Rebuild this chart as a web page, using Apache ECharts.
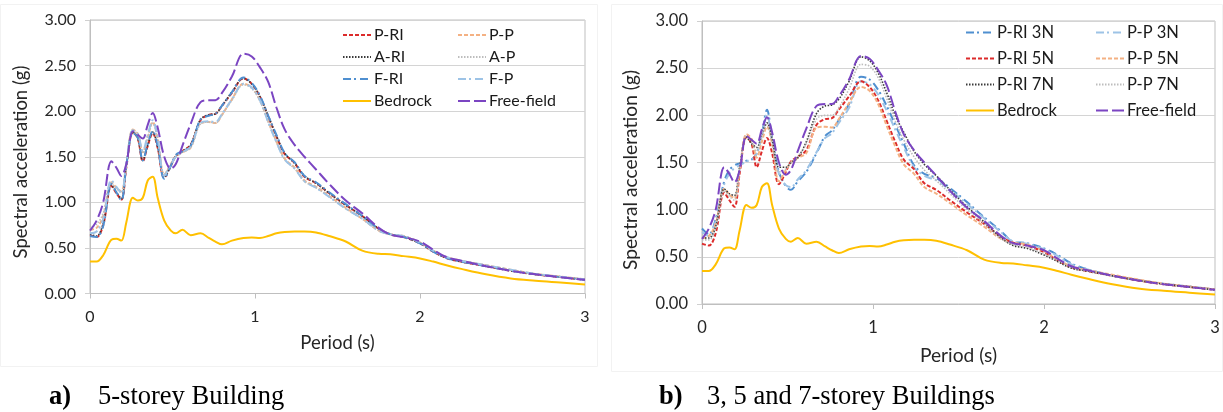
<!DOCTYPE html>
<html>
<head>
<meta charset="utf-8">
<script src="https://cdn.jsdelivr.net/npm/echarts@6.0.0/dist/echarts.min.js"></script>
<style>
  html, body { margin: 0; padding: 0; background: #fff; }
  #chart { width: 1223px; height: 412px; }
</style>
</head>
<body>
<div id="chart"></div>
<script>
// Period axis (s) shared by every spectrum
const periods = [0, 0.04, 0.08, 0.13, 0.16, 0.19, 0.22, 0.26, 0.29, 0.32, 0.35, 0.38, 0.41, 0.45, 0.49, 0.52, 0.56, 0.61, 0.67, 0.72, 0.76, 0.8, 0.86, 0.93, 0.98, 1.03, 1.08, 1.13, 1.18, 1.24, 1.3, 1.37, 1.45, 1.55, 1.65, 1.75, 1.82, 1.9, 2.0, 2.08, 2.16, 2.25, 2.4, 2.55, 2.7, 2.85, 3.0];

// Spectral acceleration (g)
const bedrock   = [0.35, 0.35, 0.42, 0.59, 0.60, 0.58, 0.78, 1.05, 1.02, 1.05, 1.24, 1.28, 1.05, 0.80, 0.69, 0.66, 0.70, 0.64, 0.66, 0.61, 0.57, 0.54, 0.58, 0.61, 0.615, 0.61, 0.63, 0.66, 0.675, 0.68, 0.68, 0.67, 0.63, 0.57, 0.47, 0.435, 0.43, 0.41, 0.385, 0.35, 0.31, 0.27, 0.21, 0.165, 0.14, 0.12, 0.10];
const freeField = [0.69, 0.80, 1.00, 1.45, 1.38, 1.29, 1.42, 1.78, 1.74, 1.70, 1.85, 1.98, 1.82, 1.50, 1.37, 1.42, 1.62, 1.86, 2.10, 2.12, 2.12, 2.20, 2.38, 2.63, 2.60, 2.48, 2.32, 2.04, 1.80, 1.63, 1.50, 1.36, 1.20, 1.02, 0.88, 0.72, 0.645, 0.62, 0.57, 0.48, 0.40, 0.36, 0.30, 0.25, 0.21, 0.18, 0.15];

// 5-storey building, rigid (RI) and pile (P) variants
const pRI = [0.64, 0.62, 0.75, 1.18, 1.10, 1.03, 1.38, 1.77, 1.70, 1.45, 1.62, 1.76, 1.60, 1.27, 1.40, 1.51, 1.56, 1.63, 1.90, 1.96, 1.97, 2.06, 2.20, 2.36, 2.30, 2.16, 1.94, 1.72, 1.53, 1.43, 1.28, 1.21, 1.10, 0.97, 0.85, 0.71, 0.65, 0.62, 0.55, 0.46, 0.39, 0.35, 0.30, 0.25, 0.21, 0.18, 0.15];
const aRI = [0.65, 0.63, 0.77, 1.19, 1.11, 1.04, 1.39, 1.77, 1.70, 1.46, 1.63, 1.77, 1.61, 1.28, 1.40, 1.51, 1.56, 1.63, 1.91, 1.96, 1.97, 2.06, 2.21, 2.36, 2.30, 2.16, 1.95, 1.73, 1.54, 1.43, 1.29, 1.21, 1.10, 0.97, 0.85, 0.71, 0.65, 0.62, 0.55, 0.46, 0.39, 0.35, 0.30, 0.25, 0.21, 0.18, 0.15];
const fRI = [0.63, 0.62, 0.74, 1.20, 1.11, 1.02, 1.40, 1.76, 1.71, 1.46, 1.64, 1.78, 1.62, 1.26, 1.40, 1.52, 1.56, 1.62, 1.91, 1.95, 1.97, 2.06, 2.21, 2.37, 2.31, 2.17, 1.95, 1.74, 1.54, 1.44, 1.29, 1.22, 1.11, 0.98, 0.85, 0.71, 0.65, 0.62, 0.55, 0.46, 0.39, 0.35, 0.30, 0.25, 0.21, 0.18, 0.15];
const pP  = [0.70, 0.72, 0.85, 1.22, 1.16, 1.12, 1.42, 1.80, 1.75, 1.55, 1.72, 1.88, 1.70, 1.30, 1.42, 1.50, 1.55, 1.60, 1.87, 1.88, 1.87, 1.96, 2.13, 2.30, 2.26, 2.12, 1.89, 1.67, 1.48, 1.38, 1.24, 1.17, 1.07, 0.94, 0.82, 0.69, 0.65, 0.63, 0.56, 0.47, 0.40, 0.36, 0.31, 0.26, 0.215, 0.185, 0.155];
const aP  = [0.73, 0.76, 0.88, 1.21, 1.15, 1.11, 1.41, 1.79, 1.74, 1.54, 1.71, 1.87, 1.69, 1.31, 1.42, 1.50, 1.55, 1.60, 1.86, 1.88, 1.87, 1.96, 2.12, 2.29, 2.25, 2.11, 1.88, 1.66, 1.47, 1.37, 1.23, 1.16, 1.06, 0.93, 0.82, 0.69, 0.65, 0.63, 0.56, 0.47, 0.40, 0.36, 0.31, 0.26, 0.215, 0.185, 0.155];
const fP  = [0.66, 0.68, 0.82, 1.24, 1.17, 1.10, 1.43, 1.79, 1.75, 1.56, 1.74, 1.90, 1.71, 1.29, 1.41, 1.50, 1.55, 1.61, 1.87, 1.89, 1.88, 1.97, 2.13, 2.30, 2.26, 2.12, 1.88, 1.66, 1.47, 1.37, 1.23, 1.16, 1.06, 0.93, 0.82, 0.69, 0.65, 0.63, 0.56, 0.47, 0.40, 0.36, 0.31, 0.26, 0.215, 0.185, 0.155];

// 3- and 7-storey buildings (5-storey uses pRI / pP)
const pRI3N = [0.80, 0.74, 0.90, 1.30, 1.42, 1.47, 1.49, 1.52, 1.53, 1.60, 1.80, 2.06, 1.75, 1.40, 1.25, 1.21, 1.30, 1.40, 1.60, 1.78, 1.84, 1.95, 2.12, 2.41, 2.38, 2.27, 2.10, 1.90, 1.70, 1.47, 1.38, 1.335, 1.23, 1.08, 0.92, 0.77, 0.66, 0.645, 0.59, 0.52, 0.43, 0.37, 0.30, 0.255, 0.215, 0.185, 0.155];
const pP3N  = [0.76, 0.72, 0.88, 1.27, 1.38, 1.44, 1.47, 1.51, 1.53, 1.59, 1.78, 2.01, 1.72, 1.38, 1.26, 1.24, 1.32, 1.42, 1.61, 1.76, 1.81, 1.92, 2.08, 2.36, 2.33, 2.22, 2.05, 1.85, 1.66, 1.45, 1.36, 1.31, 1.21, 1.06, 0.91, 0.76, 0.66, 0.64, 0.58, 0.51, 0.42, 0.37, 0.30, 0.255, 0.215, 0.185, 0.155];
const pRI7N = [0.70, 0.70, 0.82, 1.22, 1.17, 1.15, 1.45, 1.77, 1.70, 1.66, 1.80, 1.92, 1.75, 1.45, 1.45, 1.50, 1.55, 1.72, 2.02, 2.10, 2.11, 2.17, 2.36, 2.62, 2.58, 2.45, 2.24, 2.00, 1.82, 1.62, 1.48, 1.36, 1.21, 1.03, 0.87, 0.70, 0.62, 0.59, 0.52, 0.45, 0.38, 0.35, 0.30, 0.25, 0.21, 0.18, 0.15];
const pP7N  = [0.68, 0.68, 0.80, 1.20, 1.14, 1.10, 1.42, 1.78, 1.72, 1.62, 1.78, 1.90, 1.72, 1.40, 1.43, 1.50, 1.56, 1.70, 1.96, 2.00, 2.00, 2.08, 2.28, 2.54, 2.52, 2.40, 2.18, 1.94, 1.74, 1.56, 1.42, 1.31, 1.17, 1.00, 0.85, 0.69, 0.63, 0.60, 0.53, 0.46, 0.39, 0.35, 0.30, 0.25, 0.21, 0.18, 0.15];

const xTicks = { min: 0, max: 3, interval: 1 };
const yTicks = { min: 0, max: 3, interval: 0.5 };

const FONT = 'Lato';
const styles = {
  red:      { color: '#dc2b2b', type: [4, 2],        width: 2 },
  orange:   { color: '#f4b183', type: [4, 2],        width: 2 },
  dark:     { color: '#3a3a3a', type: [1.5, 1.5],    width: 1.6 },
  grey:     { color: '#bdbdbd', type: [1.5, 1.5],    width: 1.6 },
  blue:     { color: '#4f8fd0', type: [8, 3, 2, 4],  width: 2 },
  lblue:    { color: '#9dc3e6', type: [8, 3, 2, 4],  width: 2 },
  bedrock:  { color: '#ffc000', type: 'solid',       width: 2 },
  free:     { color: '#7b45c2', type: [12, 4],       width: 2 }
};

function pairs(vals) { return periods.map((t, i) => [t, vals[i]]); }

function line(name, vals, st, idx) {
  return {
    name: name, type: 'line', xAxisIndex: idx, yAxisIndex: idx,
    data: pairs(vals), smooth: 0.35, symbol: 'none', showSymbol: false,
    lineStyle: { color: st.color, type: st.type, width: st.width },
    itemStyle: { color: st.color },
    emphasis: { disabled: true }, animation: false
  };
}

// chart b names carry a trailing space where the label repeats chart a
const seriesA = [
  line('P-RI', pRI, styles.red, 0),
  line('P-P', pP, styles.orange, 0),
  line('A-RI', aRI, styles.dark, 0),
  line('A-P', aP, styles.grey, 0),
  line('F-RI', fRI, styles.blue, 0),
  line('F-P', fP, styles.lblue, 0),
  line('Bedrock', bedrock, styles.bedrock, 0),
  line('Free-field', freeField, styles.free, 0)
];
const seriesB = [
  line('P-RI 3N', pRI3N, styles.blue, 1),
  line('P-P 3N', pP3N, styles.lblue, 1),
  line('P-RI 5N', pRI, styles.red, 1),
  line('P-P 5N', pP, styles.orange, 1),
  line('P-RI 7N', pRI7N, styles.dark, 1),
  line('P-P 7N', pP7N, styles.grey, 1),
  line('Bedrock ', bedrock, styles.bedrock, 1),
  line('Free-field ', freeField, styles.free, 1)
];

function xAxis(idx, gap, fs, ns) {
  return {
    type: 'value', gridIndex: idx, min: xTicks.min, max: xTicks.max, interval: xTicks.interval,
    name: 'Period (s)', nameLocation: 'middle', nameGap: gap,
    nameTextStyle: { fontFamily: FONT, fontSize: ns, color: '#262626' },
    axisLine: { show: true, lineStyle: { color: '#bfbfbf', width: 1 } },
    axisTick: { show: true, inside: false, length: 5, lineStyle: { color: '#bfbfbf' } },
    axisLabel: { fontFamily: FONT, fontSize: fs, color: '#262626', margin: 15 },
    splitLine: { show: false }
  };
}
function yAxis(idx, fs) {
  return {
    type: 'value', gridIndex: idx, min: yTicks.min, max: yTicks.max, interval: yTicks.interval,
    axisLine: { show: true, lineStyle: { color: '#bfbfbf', width: 1 } },
    axisTick: { show: true, inside: false, length: 5, lineStyle: { color: '#d0d0d0' } },
    axisLabel: { fontFamily: FONT, fontSize: fs, color: '#262626', margin: 14,
                 formatter: v => v.toFixed(2) },
    splitLine: { show: true, lineStyle: { color: '#d4d4d4', width: 1 } }
  };
}

function legend(names, left, top, gap, fs) {
  return {
    data: names, orient: 'vertical', left: left, top: top,
    itemWidth: 28, itemHeight: 14, itemGap: gap, padding: 0,
    selectedMode: false,
    itemStyle: { opacity: 0, borderWidth: 0 },
    textStyle: { fontFamily: FONT, fontSize: fs, color: '#1a1a1a', lineHeight: 16, padding: [0, 0, 0, -2] }
  };
}

function yTitle(x, y, fs) {
  return { type: 'text', x: x, y: y, rotation: Math.PI / 2, silent: true,
           style: { text: 'Spectral acceleration (g)', font: fs + 'px ' + FONT, fill: '#262626',
                    align: 'center', verticalAlign: 'middle' } };
}

function caption(tag, text, x, xText, y) {
  return [
    { type: 'text', left: x, top: y, style: { text: tag, font: 'bold 26.5px "Liberation Serif"', fill: '#000' } },
    { type: 'text', left: xText, top: y, style: { text: text, font: '26.5px "Liberation Serif"', fill: '#000' } }
  ];
}

const chart = echarts.init(document.getElementById('chart'), null, { renderer: 'canvas' });
chart.setOption({
  animation: false,
  backgroundColor: '#fff',
  grid: [
    { left: 90, top: 20, width: 495, height: 273.5, show: true, borderColor: '#bfbfbf', borderWidth: 1 },
    { left: 702, top: 21, width: 513, height: 283, show: true, borderColor: '#bfbfbf', borderWidth: 1 }
  ],
  xAxis: [xAxis(0, 40, 16, 18.5), xAxis(1, 42, 16.5, 19.2)],
  yAxis: [yAxis(0, 16), yAxis(1, 16.5)],
  legend: [
    legend(['P-RI', 'A-RI', 'F-RI', 'Bedrock'], 342, 27, 6, 16),
    legend(['P-P', 'A-P', 'F-P', 'Free-field'], 457, 27, 6, 16),
    legend(['P-RI 3N', 'P-RI 5N', 'P-RI 7N', 'Bedrock '], 965, 24, 9, 16.5),
    legend(['P-P 3N', 'P-P 5N', 'P-P 7N', 'Free-field '], 1095, 24, 9, 16.5)
  ],
  graphic: [
    { type: 'rect', shape: { x: 0.5, y: 4.5, width: 597, height: 362 }, style: { fill: 'none', stroke: '#f2f2f2', lineWidth: 1 }, silent: true, z: -1 },
    { type: 'rect', shape: { x: 611.5, y: 4.5, width: 611, height: 367 }, style: { fill: 'none', stroke: '#f2f2f2', lineWidth: 1 }, silent: true, z: -1 },
    yTitle(21, 162, 18.5),
    yTitle(631, 170, 19.2)
  ].concat(caption('a)', '5-storey Building', 49, 98, 384))
   .concat(caption('b)', '3, 5 and 7-storey Buildings', 659, 707, 384)),
  series: seriesA.concat(seriesB)
});
</script>
</body>
</html>
